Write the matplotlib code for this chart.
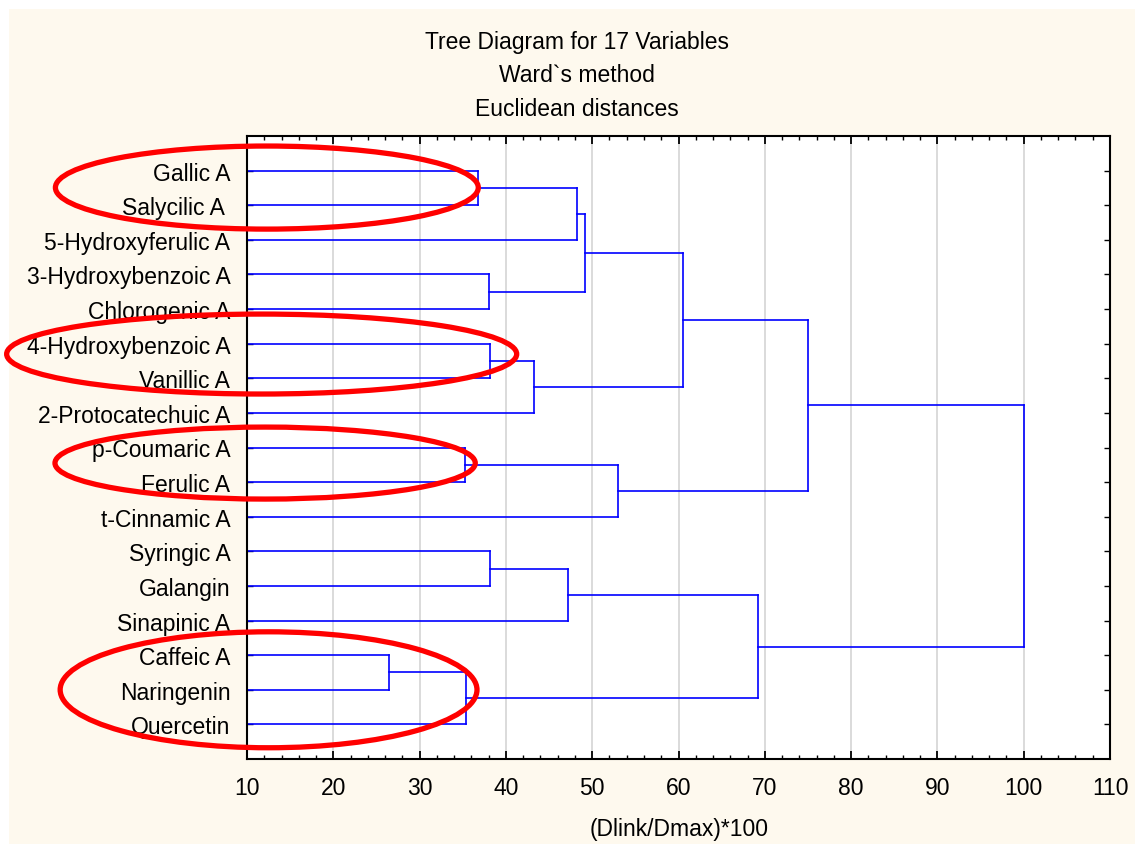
import matplotlib.pyplot as plt
from matplotlib.patches import Ellipse, Rectangle

plt.rcParams['font.family'] = ['Liberation Sans', 'DejaVu Sans']

labels = ['Gallic A', 'Salycilic A ', '5-Hydroxyferulic A', '3-Hydroxybenzoic A',
          'Chlorogenic A', '4-Hydroxybenzoic A', 'Vanillic A', '2-Protocatechuic A',
          'p-Coumaric A', 'Ferulic A', 't-Cinnamic A', 'Syringic A', 'Galangin',
          'Sinapinic A', 'Caffeic A', 'Naringenin', 'Quercetin']

# linkage: new cluster ids start at 17, in this order
merge_a = [14, 8, 17, 0, 3, 5, 11, 22, 23, 20, 26, 18, 27, 25, 29, 31]
merge_b = [15, 9, 16, 1, 4, 6, 12, 7, 13, 2, 21, 10, 24, 19, 28, 30]
merge_h = [26.5, 35.3, 35.4, 36.8, 38.0, 38.2, 38.2, 43.3, 47.2, 48.2, 49.2,
           53.0, 60.5, 69.2, 75.0, 100.0]

# red hand-drawn ellipses: (x centre, y centre, width, height) in data units
ellipses = [(12.3, 1.49, 49.0, 2.40),
            (11.7, 6.30, 59.1, 2.31),
            (12.1, 9.45, 48.7, 2.08),
            (12.5, 16.0, 48.3, 3.35)]

fs = 16.5

fig = plt.figure(figsize=(11.35, 8.45), dpi=100, facecolor='white')
fig.add_artist(Rectangle((9 / 1135, 0), 1, 1 - 10 / 845, transform=fig.transFigure,
                         facecolor='#fef9ee', edgecolor='none', zorder=-10))
ax = fig.add_axes([247 / 1135, 1 - 760 / 845, 863 / 1135, 623 / 845])
ax.set_facecolor('white')

x0 = 10
ypos = {i: i + 1 for i in range(len(labels))}
xpos = {i: x0 for i in range(len(labels))}
for k, (a, b, h) in enumerate(zip(merge_a, merge_b, merge_h)):
    for c in (a, b):
        ax.plot([xpos[c], h], [ypos[c], ypos[c]], color='#0000ff', lw=1.2)
    ax.plot([h, h], [ypos[a], ypos[b]], color='#0000ff', lw=1.2)
    new = len(labels) + k
    ypos[new] = (ypos[a] + ypos[b]) / 2
    xpos[new] = h

ax.set_xlim(10, 110)
ax.set_ylim(18, 0)
ax.set_xticks(range(10, 111, 10))
ax.set_xticks(range(10, 111, 2), minor=True)
ax.set_yticks(range(1, 18))
ax.set_yticklabels(labels)
ax.tick_params(axis='both', which='both', direction='in', top=True, right=True,
               labelsize=fs, color='black')
ax.tick_params(axis='x', which='major', length=6, width=1.3, pad=12)
ax.tick_params(axis='x', which='minor', length=3, width=1)
ax.tick_params(axis='y', length=4, width=1, pad=12)
for g in range(20, 101, 10):
    ax.axvline(g, color='#d8d8d8', lw=1.3, zorder=0)
for s in ax.spines.values():
    s.set_linewidth(1.5)

for cx, cy, w, h in ellipses:
    ax.add_patch(Ellipse((cx, cy), w, h, fill=False, edgecolor='#ff0000',
                         lw=3.8, clip_on=False, zorder=5))

fig.text(0.508, 1 - 42 / 845, 'Tree Diagram for 17 Variables', ha='center', va='center', fontsize=fs)
fig.text(0.508, 1 - 76 / 845, 'Ward`s method', ha='center', va='center', fontsize=fs)
fig.text(0.508, 1 - 110 / 845, 'Euclidean distances', ha='center', va='center', fontsize=fs)
fig.text(679 / 1135, 1 - 830 / 845, '(Dlink/Dmax)*100', ha='center', va='center', fontsize=fs)

fig.savefig('out.png', dpi=100)
